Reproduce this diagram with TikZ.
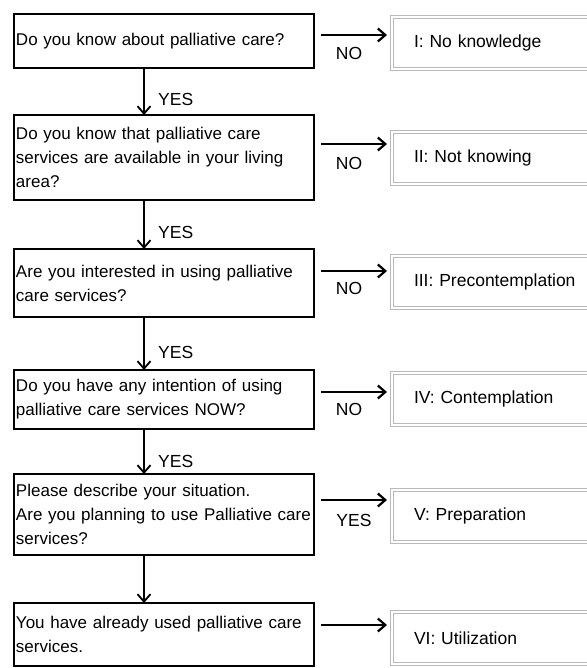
\documentclass[tikz,border=0pt]{standalone}
\usepackage{fontspec}
\setmainfont{Liberation Sans}
\usetikzlibrary{arrows.meta}
\begin{document}
\begin{tikzpicture}[x=1pt,y=-1pt,
  qbox/.style={draw=black, line width=1.6pt, anchor=north west, outer sep=0pt,
    inner xsep=2pt, inner ysep=0pt, text width=296pt, align=left,
    font=\fontsize{17}{24}\selectfont},
  rbox/.style={draw=gray!55, double=white, double distance=2pt, line width=0.9pt,
    anchor=north west, outer sep=0pt, inner xsep=22pt, inner ysep=0pt,
    text width=200pt, align=left, minimum height=52pt,
    font=\fontsize{17.5}{24}\selectfont},
  lbl/.style={inner sep=0pt, font=\fontsize{17.5}{20}\selectfont},
  harr/.style={line width=2.2pt, -{Straight Barb[length=7.5pt,width=13pt]},
    shorten <=7pt, shorten >=5pt},
  varr/.style={line width=1.8pt, -{Straight Barb[length=7.5pt,width=13pt]}}]
\useasboundingbox (0,0) rectangle (586,668);

% question boxes
\node[qbox, minimum height=54pt] (q1) at (14,14) {Do you know about palliative care?};
\node[qbox, minimum height=85pt] (q2) at (14,115) {Do you know that palliative care\\services are available in your living\\area?};
\node[qbox, minimum height=68pt] (q3) at (14,249) {Are you interested in using palliative\\care services?};
\node[qbox, minimum height=59pt] (q4) at (14,370) {Do you have any intention of using\\palliative care services NOW?};
\node[qbox, minimum height=81pt] (q5) at (14,474) {Please describe your situation.\\\mbox{Are you planning to use Palliative care}\\services?};
\node[qbox, minimum height=63pt] (q6) at (14,603) {You have already used palliative care\\services.};

% stage boxes
\node[rbox] (r1) at (392,17) {I: No knowledge};
\node[rbox] (r2) at (392,132) {II: Not knowing};
\node[rbox] (r3) at (392,256) {III: Precontemplation};
\node[rbox] (r4) at (392,373) {IV: Contemplation};
\node[rbox] (r5) at (392,490) {V: Preparation};
\node[rbox] (r6) at (392,612) {VI: Utilization};

% vertical arrows
\draw[varr] (q1.south -| 144,0) -- (q2.north -| 144,0);
\draw[varr] (q2.south -| 144,0) -- (q3.north -| 144,0);
\draw[varr] (q3.south -| 144,0) -- (q4.north -| 144,0);
\draw[varr] (q4.south -| 144,0) -- (q5.north -| 144,0);
\draw[varr] (q5.south -| 144,0) -- (q6.north -| 144,0);

\node[lbl, anchor=west] (y1) at (158,99) {YES};
\node[lbl, anchor=west] (y2) at (158,232) {YES};
\node[lbl, anchor=west] (y3) at (158,352) {YES};
\node[lbl, anchor=west] (y4) at (158,461) {YES};

% horizontal arrows
\draw[harr] (q1.east |- 0,35) -- (r1.west |- 0,35);
\draw[harr] (q2.east |- 0,144) -- (r2.west |- 0,144);
\draw[harr] (q3.east |- 0,271) -- (r3.west |- 0,271);
\draw[harr] (q4.east |- 0,392) -- (r4.west |- 0,392);
\draw[harr] (q5.east |- 0,500) -- (r5.west |- 0,500);
\draw[harr] (q6.east |- 0,625) -- (r6.west |- 0,625);

\node[lbl] (n1) at (349,53) {NO};
\node[lbl] (n2) at (349,163) {NO};
\node[lbl] (n3) at (349,288) {NO};
\node[lbl] (n4) at (349,409) {NO};
\node[lbl] (y5) at (354,520) {YES};
\end{tikzpicture}
\end{document}
